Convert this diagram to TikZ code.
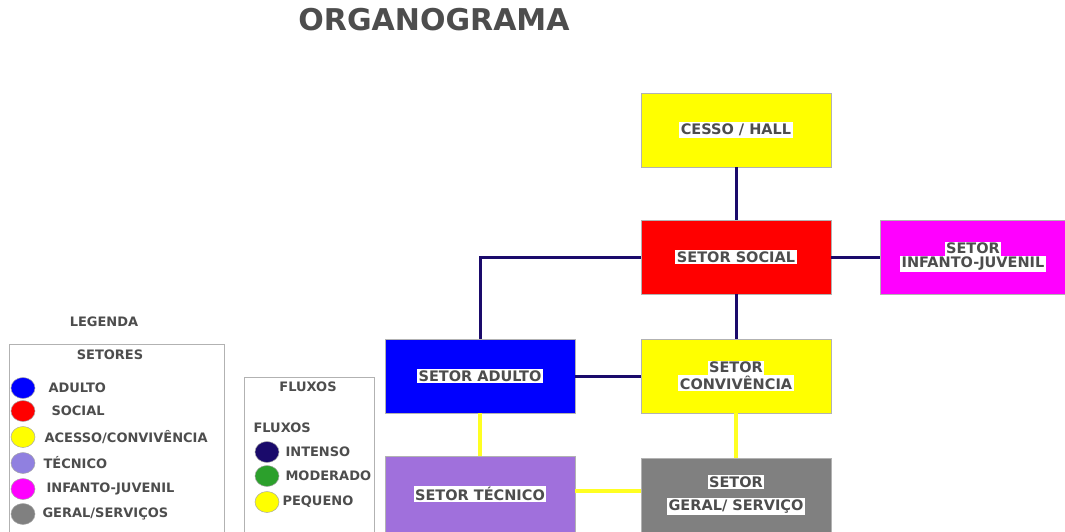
\documentclass[tikz,border=0pt]{standalone}
\usepackage{fontspec}
\setmainfont{DejaVu Sans}
\usepackage{tikz}
\usetikzlibrary{positioning,calc,shapes.geometric}
\usepackage{xcolor}

\definecolor{tinta}{HTML}{4D4D4D}
\definecolor{intenso}{HTML}{1A0A6B}
\definecolor{moderado}{HTML}{2CA02C}
\definecolor{amarelo}{HTML}{FFFF00}
\definecolor{pequeno}{HTML}{FFFF22}
\definecolor{azul}{HTML}{0000FF}
\definecolor{vermelho}{HTML}{FF0000}
\definecolor{rosa}{HTML}{FF00FF}
\definecolor{tecnico}{HTML}{A070DC}
\definecolor{tecleg}{HTML}{9080E0}
\definecolor{cinza}{HTML}{808080}

\newcommand{\rotulo}[1]{{\setlength{\fboxsep}{1.5pt}\colorbox{white}{#1}}}

\tikzset{
  setor/.style={draw=gray!60, line width=0.8pt, minimum width=190pt, minimum height=74pt,
    align=center, font=\bfseries\fontsize{14.5}{15}\selectfont, text=tinta},
  forte/.style={intenso, line width=3pt},
  fraco/.style={pequeno, line width=4pt},
  bola/.style={ellipse, draw=gray!70, line width=0.5pt, minimum width=24pt,
    minimum height=21pt, inner sep=0pt},
  legtxt/.style={anchor=west, font=\bfseries\fontsize{13}{14}\selectfont, text=tinta},
}

\begin{document}
\begin{tikzpicture}[x=1pt,y=-1pt]
  % Página
  \useasboundingbox (0,0) rectangle (1065,532);

  % Título
  \node[font=\bfseries\fontsize{30}{31}\selectfont, text=tinta] (titulo) at (434,20) {ORGANOGRAMA};

  % Setores
  \node[setor, fill=amarelo] (hall) at (736,130) {\rotulo{CESSO / HALL}};
  \node[setor, fill=vermelho] (social) at (736,257) {\rotulo{SETOR SOCIAL}};
  \node[setor, fill=rosa, minimum width=186pt] (infanto) at (973,257)
    {\rotulo{SETOR}\\[-1pt]\rotulo{INFANTO-JUVENIL}};
  \node[setor, fill=azul] (adulto) at (480,376) {\rotulo{SETOR ADULTO}};
  \node[setor, fill=amarelo] (conviv) at (736,376)
    {\rotulo{SETOR}\\[-1pt]\rotulo{CONVIVÊNCIA}};
  \node[setor, fill=tecnico, minimum height=76pt] (tecnico) at (480,494) {\rotulo{SETOR TÉCNICO}};
  \node[setor, fill=cinza] (geral) at (736,495)
    {\rotulo{SETOR}\\[8pt]\rotulo{GERAL/ SERVIÇO}};

  % Fluxos entre setores
  \draw[forte] (hall) -- (social);
  \draw[forte] (social) -- (infanto);
  \draw[forte] (social) -- (conviv);
  \draw[forte] (social.west) -| (adulto.north);
  \draw[forte] (adulto) -- (conviv);
  \draw[fraco] (adulto) -- (tecnico);
  \draw[fraco] (conviv) -- (geral);
  \draw[fraco] ([yshift=3pt]tecnico.east) -- ([yshift=3pt]tecnico.east -| geral.west);

  % Legenda dos setores
  \node[legtxt, anchor=center] (legenda) at (104,322) {LEGENDA};
  \draw[gray!60, line width=0.8pt] (9,532) -- (9,344) -- (224,344) -- (224,532);
  \node[legtxt, anchor=center] (setores) at (110,355) {SETORES};
  \foreach \cor/\nome/\y/\dx [count=\i] in {azul/ADULTO/388/22, vermelho/SOCIAL/411/25,
      amarelo/ACESSO\slash CONVIVÊNCIA/437/18, tecleg/TÉCNICO/463/17,
      rosa/INFANTO-JUVENIL/489/20, cinza/GERAL\slash SERVIÇOS/514/16} {
    \node[bola, fill=\cor] (s\i) at (23,\y) {};
    \node[legtxt, right=\dx pt of s\i.center] (st\i) {\nome};
  }

  % Legenda dos fluxos
  \draw[gray!60, line width=0.8pt] (244,532) -- (244,377) -- (374,377) -- (374,532);
  \node[legtxt, anchor=center] (fluxos) at (308,387) {FLUXOS};
  \node[legtxt] (fluxos2) at (250,428) {FLUXOS};
  \foreach \cor/\nome/\y/\dx [count=\i] in {intenso/INTENSO/452/15, moderado/MODERADO/476/15,
      amarelo/PEQUENO/502/12} {
    \node[bola, fill=\cor] (f\i) at (267,\y) {};
    \node[legtxt, right=\dx pt of f\i.center] (ft\i) {\nome};
  }
\end{tikzpicture}
\end{document}
